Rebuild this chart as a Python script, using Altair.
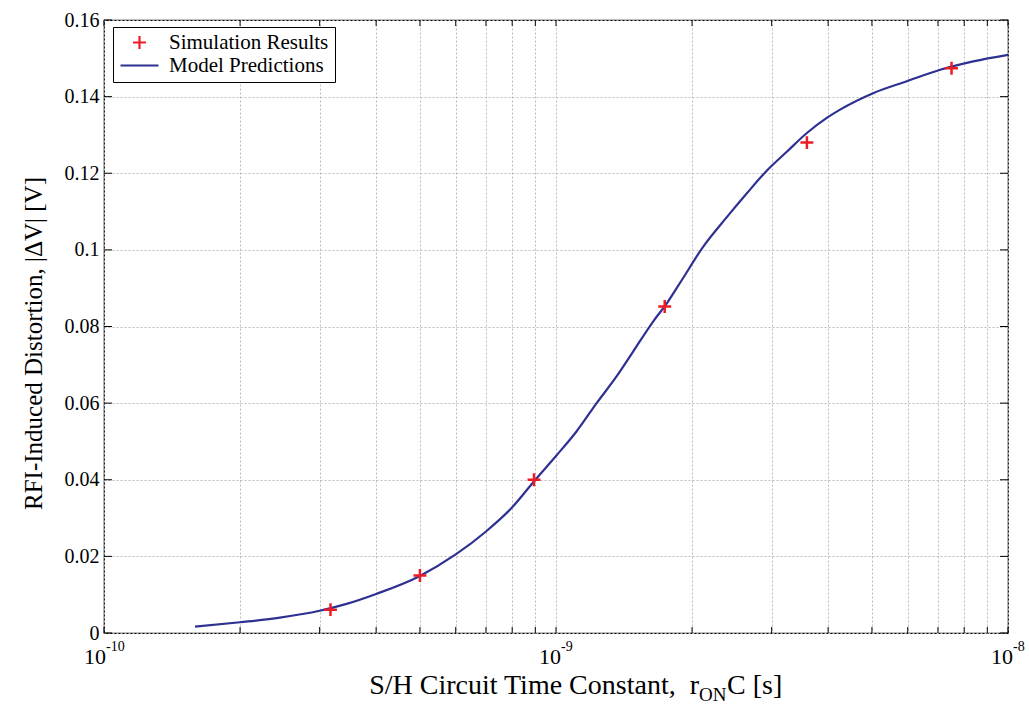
import altair as alt
import pandas as pd

# ---------------- data ----------------
series_names = ["Simulation Results", "Model Predictions"]

sim_x = [3.17e-10, 5.0e-10, 8.94e-10, 1.74e-9, 3.59e-9, 7.5e-9]
sim_y = [0.0061, 0.0150, 0.0400, 0.0852, 0.1280, 0.1474]

model_x = [1.59e-10, 2.0e-10, 2.45e-10, 3.0e-10, 3.44e-10, 4.0e-10, 5.0e-10, 6.0e-10,
           7.0e-10, 8.0e-10, 9.0e-10, 1.0e-9, 1.11e-9, 1.23e-9, 1.36e-9, 1.48e-9,
           1.64e-9, 1.76e-9, 1.90e-9, 2.11e-9, 2.39e-9, 2.65e-9, 2.94e-9, 3.24e-9,
           3.59e-9, 3.98e-9, 4.25e-9, 5.03e-9, 5.97e-9, 7.08e-9, 8.38e-9, 1.0e-8]
model_y = [0.00165, 0.0028, 0.0040, 0.0058, 0.0076, 0.0102, 0.0149, 0.0205,
           0.0265, 0.0328, 0.0400, 0.0462, 0.0526, 0.0600, 0.0669, 0.0734,
           0.0813, 0.0861, 0.0922, 0.1006, 0.1086, 0.1149, 0.1209, 0.1256,
           0.1305, 0.1345, 0.1366, 0.1409, 0.1440, 0.1470, 0.1492, 0.1509]

x_ticks = [1e-10, 2e-10, 3e-10, 4e-10, 5e-10, 6e-10, 7e-10, 8e-10, 9e-10,
           1e-9, 2e-9, 3e-9, 4e-9, 5e-9, 6e-9, 7e-9, 8e-9, 9e-9, 1e-8]
y_ticks = [0, 0.02, 0.04, 0.06, 0.08, 0.10, 0.12, 0.14, 0.16]

x_major = [1e-10, 1e-9, 1e-8]
x_major_base = ["10", "10", "10"]
x_major_exp = ["-10", "-9", "-8"]

y_title = "RFI-Induced Distortion, |\u0394V| [V]"
x_title_parts = ["S/H Circuit Time Constant, \u00a0r", "ON", "C [s]"]

# ---------------- layout ----------------
W, H = 904, 613
FONT = "Liberation Serif"
RED = "#ed1c24"
BLUE = "#2e3192"
GRID = "#bdbdbd"

xs = alt.Scale(type="log", domain=[1e-10, 1e-8], nice=False)
ys = alt.Scale(domain=[0, 0.16], nice=False, zero=False)
color_scale = alt.Scale(domain=series_names, range=[RED, BLUE])
shape_scale = alt.Scale(domain=series_names,
                        range=["M-0.34,0H0.34M0,-0.34V0.34", "M-1,0H1"])

legend = alt.Legend(
    title=None, orient="none", legendX=9, legendY=7,
    fillColor="white", strokeColor="black", padding=6,
    labelFont=FONT, labelFontSize=21, labelColor="black", labelOffset=9,
    rowPadding=1, symbolSize=1444, symbolStrokeWidth=2.2, clipHeight=19,
)

x_axis = alt.Axis(values=x_ticks, grid=True, labels=False, ticks=False,
                  domain=False, title=None, gridColor=GRID,
                  gridDash=[2, 2], gridWidth=1)
y_axis = alt.Axis(values=y_ticks, grid=True, ticks=False, domain=False,
                  gridColor=GRID, gridDash=[2, 2], gridWidth=1,
                  labelFont=FONT, labelFontSize=20, labelColor="black",
                  labelPadding=5, format=".2~f",
                  title=y_title, titleFont=FONT, titleFontSize=25,
                  titleFontWeight="normal", titleColor="black",
                  titleX=-71, titleY=323, titleAngle=270,
                  titleBaseline="middle", titleAlign="center")

model_df = pd.DataFrame({"x": model_x, "y": model_y, "series": series_names[1]})
sim_df = pd.DataFrame({"x": sim_x, "y": sim_y, "series": series_names[0]})

line = alt.Chart(model_df).mark_line(strokeWidth=2.2, interpolate="monotone").encode(
    x=alt.X("x:Q", scale=xs, axis=x_axis),
    y=alt.Y("y:Q", scale=ys, axis=y_axis),
    color=alt.Color("series:N", scale=color_scale, legend=legend),
)

points = alt.Chart(sim_df).mark_point(filled=False, size=1444, strokeWidth=2.5,
                                      opacity=1).encode(
    x=alt.X("x:Q", scale=xs, axis=x_axis),
    y=alt.Y("y:Q", scale=ys, axis=y_axis),
    color=alt.Color("series:N", scale=color_scale, legend=legend),
    shape=alt.Shape("series:N", scale=shape_scale, legend=legend),
)

xt_df = pd.DataFrame({"x": x_ticks})
yt_df = pd.DataFrame({"y": y_ticks})
xv = alt.X("x:Q", scale=xs, axis=x_axis)
yv = alt.Y("y:Q", scale=ys, axis=y_axis)

tick_b = alt.Chart(xt_df).mark_rule(color="black", strokeWidth=1).encode(
    x=xv, y=alt.value(H), y2=alt.value(H - 6))
tick_t = alt.Chart(xt_df).mark_rule(color="black", strokeWidth=1).encode(
    x=xv, y=alt.value(0), y2=alt.value(6))
tick_l = alt.Chart(yt_df).mark_rule(color="black", strokeWidth=1).encode(
    y=yv, x=alt.value(0), x2=alt.value(8))
tick_r = alt.Chart(yt_df).mark_rule(color="black", strokeWidth=1).encode(
    y=yv, x=alt.value(W), x2=alt.value(W - 8))

lab_df = pd.DataFrame({"x": x_major, "base": x_major_base, "exp": x_major_exp})
first = alt.datum.x < 5e-10
rest = alt.datum.x > 5e-10

base_a = alt.Chart(lab_df).transform_filter(first).mark_text(
    font=FONT, fontSize=22, align="right", baseline="alphabetic", dx=2,
    color="black").encode(x=xv, y=alt.value(H + 31), text="base:N")
exp_a = alt.Chart(lab_df).transform_filter(first).mark_text(
    font=FONT, fontSize=14, align="left", baseline="alphabetic", dx=2,
    color="black").encode(x=xv, y=alt.value(H + 18), text="exp:N")
base_b = alt.Chart(lab_df).transform_filter(rest).mark_text(
    font=FONT, fontSize=22, align="right", baseline="alphabetic", dx=5,
    color="black").encode(x=xv, y=alt.value(H + 31), text="base:N")
exp_b = alt.Chart(lab_df).transform_filter(rest).mark_text(
    font=FONT, fontSize=14, align="left", baseline="alphabetic", dx=5,
    color="black").encode(x=xv, y=alt.value(H + 18), text="exp:N")

one = pd.DataFrame({"a": [0]})
XT = 595
t1 = alt.Chart(one).mark_text(font=FONT, fontSize=28, align="right",
                              baseline="alphabetic", color="black").encode(
    x=alt.value(XT), y=alt.value(H + 61), text=alt.value(x_title_parts[0]))
t2 = alt.Chart(one).mark_text(font=FONT, fontSize=19, align="left",
                              baseline="alphabetic", color="black").encode(
    x=alt.value(XT), y=alt.value(H + 68), text=alt.value(x_title_parts[1]))
t3 = alt.Chart(one).mark_text(font=FONT, fontSize=28, align="left",
                              baseline="alphabetic", color="black").encode(
    x=alt.value(XT + 28), y=alt.value(H + 61), text=alt.value(x_title_parts[2]))

chart = alt.layer(
    line, points, tick_b, tick_t, tick_l, tick_r,
    base_a, exp_a, base_b, exp_b, t1, t2, t3,
).properties(
    width=W, height=H,
    autosize=alt.AutoSizeParams(type="none"),
    padding={"left": 104, "top": 20, "right": 21, "bottom": 76},
    background="white",
).configure_view(
    stroke="black", strokeWidth=1.2
)

chart.save("out.html", embed_options={"renderer": "svg", "actions": False})
